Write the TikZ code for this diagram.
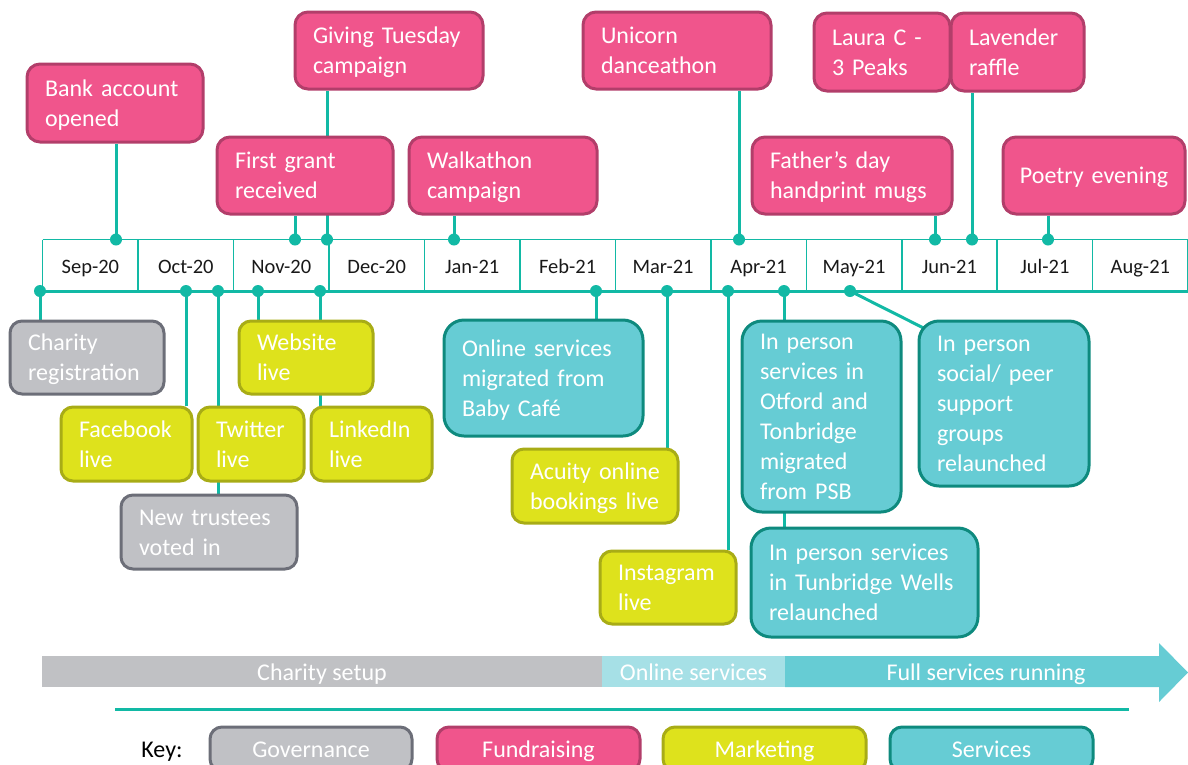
\documentclass[tikz,border=0pt]{standalone}
\usepackage{fontspec}
\setmainfont{Carlito}
\usetikzlibrary{backgrounds,calc}
\definecolor{tl}{RGB}{18,185,165}
\definecolor{pinkF}{RGB}{240,85,140}
\definecolor{pinkD}{RGB}{178,62,106}
\definecolor{yelF}{RGB}{222,226,28}
\definecolor{yelD}{RGB}{168,172,22}
\definecolor{greyF}{RGB}{192,193,197}
\definecolor{greyD}{RGB}{108,110,120}
\definecolor{tealF}{RGB}{102,204,212}
\definecolor{tealD}{RGB}{14,138,126}
\definecolor{phLight}{RGB}{166,224,230}
\definecolor{phGrey}{RGB}{192,193,196}
\definecolor{monthtxt}{RGB}{25,25,25}
\newcommand\EvBox[8][]{%
  \pgfmathsetmacro\EvW{#6-#4}%
  \pgfmathsetmacro\EvH{#7-#5}%
  \pgfmathsetmacro\EvT{#6-#4-36}%
  \node[#3, minimum width=\EvW pt, minimum height=\EvH pt]
    (#2) at ({(#4+#6)/2},{(#5+#7)/2}) {};
  \node[evtext, text width=\EvT pt, #1] (#2t) at ($(#2.center)+(0,2)$) {#8};}
\begin{document}
\begin{tikzpicture}[x=1pt,y=-1pt,
  evbase/.style={rectangle, line width=3pt, inner sep=0pt},
  evtext/.style={text=white, align=left, inner sep=0pt, font=\fontsize{24}{30}\selectfont,
    execute at begin node=\strut, execute at end node=\strut},
  fundbox/.style={evbase, fill=pinkF, draw=pinkD, rounded corners=13pt},
  mktbox/.style={evbase, fill=yelF, draw=yelD, rounded corners=12pt},
  govbox/.style={evbase, fill=greyF, draw=greyD, rounded corners=12pt},
  servbox/.style={evbase, fill=tealF, draw=tealD, rounded corners=20pt},
  keybox/.style={rounded corners=12pt},
  conn/.style={draw=tl, line width=3pt},
  tlthin/.style={draw=tl, line width=1.5pt},
  tlthick/.style={draw=tl, line width=3pt},
  monthlbl/.style={font=\fontsize{20.5}{24}\selectfont, text=monthtxt, inner sep=0pt,
    execute at begin node=\strut},
  phaselbl/.style={font=\fontsize{24}{30}\selectfont, text=white, inner sep=0pt,
    execute at begin node=\strut}]
\useasboundingbox (0,0) rectangle (1188,764);
\clip (0,0) rectangle (1188,764);

% dot coordinates
\coordinate (dba) at (116,239.5);
\coordinate (dfg) at (295,239.5);
\coordinate (dgt) at (327,239.5);
\coordinate (dwk) at (454,239.5);
\coordinate (dun) at (739,239.5);
\coordinate (dfd) at (935,239.5);
\coordinate (dlv) at (972,239.5);
\coordinate (dpe) at (1048,239.5);
\coordinate (dcr) at (40,291);
\coordinate (dfb) at (186,291);
\coordinate (dtw) at (218,291);
\coordinate (dwb) at (258,291);
\coordinate (dli) at (320,291);
\coordinate (dos) at (596,291);
\coordinate (dac) at (667,291);
\coordinate (dig) at (728,291);
\coordinate (dot) at (784,291);
\coordinate (dsp) at (850,291);

% month labels
\foreach \lab [count=\i from 0] in {Sep-20,Oct-20,Nov-20,Dec-20,Jan-21,Feb-21,Mar-21,Apr-21,May-21,Jun-21,Jul-21,Aug-21}
  \node[monthlbl] (m\i) at ({42.7+95.45*\i+47.7},268.5) {\lab};

% fundraising
\EvBox{ba}{fundbox}{27}{64}{203}{142}{Bank account\\opened}
\EvBox{gt}{fundbox}{295}{12}{483}{89}{Giving Tuesday\\campaign}
\EvBox{fg}{fundbox}{217}{137}{393}{214}{First grant\\received}
\EvBox{wk}{fundbox}{409}{137}{597}{214}{Walkathon\\campaign}
\EvBox{un}{fundbox}{583}{12}{771}{89}{Unicorn\\danceathon}
\EvBox{fd}{fundbox}{752}{137}{952}{214}{Father’s day\\handprint mugs}
\EvBox{lc}{fundbox}{814}{13}{950}{91}{Laura C -\\3 Peaks}
\EvBox{lv}{fundbox}{951}{13}{1084}{91}{Lavender\\raffle}
\EvBox[align=center, text width=172pt]{pe}{fundbox}{1003}{137}{1185}{214}{Poetry evening}

% governance
\EvBox{cr}{govbox}{10}{321}{164}{394}{Charity\\registration}
\EvBox{nt}{govbox}{121}{495}{297}{569}{New trustees\\voted in}

% marketing
\EvBox{wb}{mktbox}{239}{321}{373}{394}{Website\\live}
\EvBox{fb}{mktbox}{61}{407}{192}{481}{Facebook\\live}
\EvBox{tw}{mktbox}{198}{407}{304}{481}{Twitter\\live}
\EvBox{li}{mktbox}{311}{407}{432}{481}{LinkedIn\\live}
\EvBox{ac}{mktbox}{512}{449}{678}{523}{Acuity online\\bookings live}
\EvBox{ig}{mktbox}{600}{551}{736}{624}{Instagram\\live}

% services
\EvBox{os}{servbox}{444}{320}{643}{436}{Online services\\migrated from\\Baby Café}
\EvBox{ot}{servbox}{742}{321}{901}{512}{In person\\services in\\Otford and\\Tonbridge\\migrated\\from PSB}
\EvBox{sp}{servbox}{919}{321}{1089}{486}{In person\\social/ peer\\support\\groups\\relaunched}
\EvBox{tu}{servbox}{751}{528}{978}{637}{In person services\\in Tunbridge Wells\\relaunched}

% phases
\node[fill=phGrey, minimum width=560pt, minimum height=31pt, inner sep=0pt] (ph1) at (322,671.5) {};
\node[phaselbl] (ph1t) at ($(ph1.center)+(0,2.5)$) {Charity setup};
\node[fill=phLight, minimum width=183pt, minimum height=31pt, inner sep=0pt] (ph2) at (693.5,671.5) {};
\node[phaselbl] (ph2t) at ($(ph2.center)+(0,2.5)$) {Online services};
\fill[tealF] (785,656) -- (1159,656) -- (1159,643) -- (1188,672.5) -- (1159,702) -- (1159,687) -- (785,687) -- cycle;
\node[phaselbl] (ph3) at (986,674) {Full services running};

% key
\coordinate (kl1) at (115,709);
\coordinate (kl2) at (1129,709);
\draw[tlthick] (kl1) -- (kl2);
\node[font=\fontsize{24}{30}\selectfont, text=black, inner sep=0pt, execute at begin node=\strut] (key) at (162,751) {Key:};
\EvBox[align=center]{k1}{govbox,keybox}{210}{727}{412}{771}{Governance}
\EvBox[align=center]{k2}{fundbox,keybox}{437}{727}{640}{771}{Fundraising}
\EvBox[align=center]{k3}{mktbox,keybox}{663}{727}{866}{771}{Marketing}
\EvBox[align=center]{k4}{servbox,keybox}{890}{727}{1093}{771}{Services}

\begin{pgfonlayer}{background}
  % timeline grid
  \draw[tlthin] (42.7,239.5) -- (1190,239.5);
  \foreach \i in {0,...,12}
    \draw[tlthin] ({42.7+95.45*\i},239.5) -- ({42.7+95.45*\i},291);
  \draw[tlthick] (dcr) -- (1190,291);
  % top connectors
  \draw[conn] (dba) -- (dba |- ba.south);
  \draw[conn] (dfg) -- (dfg |- fg.south);
  \draw[conn] (dgt) -- (dgt |- gt.south);
  \draw[conn] (dwk) -- (dwk |- wk.south);
  \draw[conn] (dun) -- (dun |- un.south);
  \draw[conn] (dfd) -- (dfd |- fd.south);
  \draw[conn] (dlv) -- (dlv |- lv.south);
  \draw[conn] (dpe) -- (dpe |- pe.south);
  % bottom connectors
  \draw[conn] (dcr) -- (dcr |- cr.north);
  \draw[conn] (dfb) -- (dfb |- fb.north);
  \draw[conn] (dtw) -- (dtw |- nt.north);
  \draw[conn] (dwb) -- (dwb |- wb.north);
  \draw[conn] (dli) -- (dli |- li.north);
  \draw[conn] (dos) -- (dos |- os.north);
  \draw[conn] (dac) -- (dac |- ac.north);
  \draw[conn] (dig) -- (dig |- ig.north);
  \draw[conn] (dot) -- (dot |- tu.north);
  \draw[conn] (dsp) -- ($(sp.north west)+(9,10)$);
\end{pgfonlayer}

% dots
\foreach \d in {dba,dfg,dgt,dwk,dun,dfd,dlv,dpe,dcr,dfb,dtw,dwb,dli,dos,dac,dig,dot,dsp}
  \fill[tl] (\d) circle (6pt);
\end{tikzpicture}
\end{document}
